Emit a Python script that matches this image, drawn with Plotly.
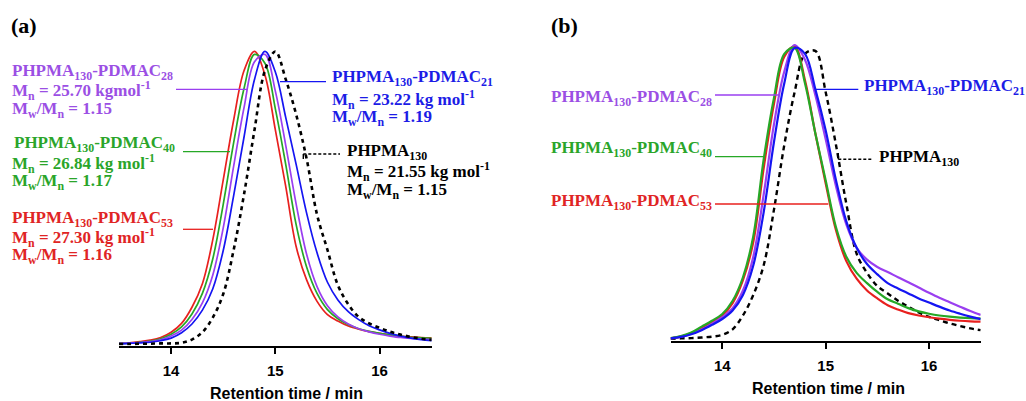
import plotly.graph_objects as go

# ---------------- data ----------------
RT = [13.5, 13.6, 13.7, 13.8, 13.9, 14.0, 14.1, 14.2, 14.3, 14.4, 14.5,
      14.6, 14.7, 14.8, 14.9, 15.0, 15.1, 15.2, 15.3, 15.4, 15.5, 15.6,
      15.7, 15.8, 15.9, 16.0, 16.1, 16.2, 16.3, 16.4, 16.5]

# panel (a) normalised RI signal
a_red = [0.002, 0.004, 0.008, 0.013, 0.022, 0.040, 0.070, 0.125, 0.205, 0.355, 0.558,
         0.762, 0.930, 0.995, 0.915, 0.728, 0.535, 0.331, 0.218, 0.145, 0.100, 0.078,
         0.061, 0.050, 0.042, 0.036, 0.031, 0.027, 0.024, 0.022, 0.021]
a_green = [0.002, 0.003, 0.006, 0.010, 0.018, 0.033, 0.058, 0.102, 0.172, 0.290, 0.475,
           0.685, 0.870, 0.985, 0.955, 0.800, 0.610, 0.405, 0.262, 0.172, 0.117, 0.086,
           0.066, 0.052, 0.043, 0.036, 0.031, 0.027, 0.023, 0.021, 0.019]
a_purple = [0.001, 0.003, 0.005, 0.008, 0.014, 0.027, 0.047, 0.083, 0.140, 0.235, 0.395,
            0.605, 0.805, 0.960, 0.985, 0.860, 0.675, 0.475, 0.305, 0.195, 0.130, 0.092,
            0.068, 0.052, 0.041, 0.033, 0.027, 0.022, 0.019, 0.017, 0.015]
a_blue = [0.001, 0.002, 0.004, 0.006, 0.011, 0.020, 0.038, 0.068, 0.115, 0.188, 0.318,
          0.505, 0.705, 0.900, 0.995, 0.925, 0.770, 0.610, 0.445, 0.310, 0.210, 0.150,
          0.110, 0.083, 0.062, 0.048, 0.036, 0.027, 0.020, 0.015, 0.011]
a_black = [0.000, 0.000, 0.001, 0.001, 0.002, 0.002, 0.004, 0.015, 0.040, 0.090, 0.170,
           0.320, 0.510, 0.728, 0.930, 0.995, 0.900, 0.780, 0.630, 0.440, 0.320, 0.200,
           0.135, 0.092, 0.070, 0.055, 0.042, 0.032, 0.024, 0.018, 0.014]

# panel (b) normalised UV signal
b_red = [0.002, 0.008, 0.020, 0.038, 0.058, 0.080, 0.122, 0.200, 0.330, 0.580, 0.800,
         0.960, 0.995, 0.880, 0.700, 0.530, 0.370, 0.265, 0.205, 0.165, 0.138, 0.115,
         0.100, 0.088, 0.080, 0.074, 0.069, 0.065, 0.062, 0.060, 0.059]
b_green = [0.003, 0.010, 0.022, 0.042, 0.062, 0.085, 0.130, 0.210, 0.350, 0.610, 0.820,
           0.970, 0.990, 0.870, 0.700, 0.540, 0.380, 0.280, 0.225, 0.190, 0.160, 0.135,
           0.120, 0.105, 0.094, 0.086, 0.080, 0.076, 0.073, 0.071, 0.070]
b_purple = [0.002, 0.008, 0.018, 0.032, 0.052, 0.074, 0.105, 0.165, 0.280, 0.490, 0.730,
            0.910, 1.000, 0.950, 0.830, 0.680, 0.520, 0.390, 0.310, 0.270, 0.245, 0.228,
            0.210, 0.193, 0.175, 0.157, 0.140, 0.125, 0.110, 0.095, 0.082]
b_blue = [0.002, 0.007, 0.016, 0.030, 0.048, 0.068, 0.097, 0.150, 0.250, 0.430, 0.670,
          0.870, 0.990, 0.970, 0.850, 0.710, 0.540, 0.400, 0.310, 0.255, 0.220, 0.190,
          0.172, 0.155, 0.138, 0.124, 0.110, 0.097, 0.086, 0.076, 0.067]
b_black = [0.001, 0.002, 0.003, 0.005, 0.008, 0.014, 0.033, 0.080, 0.150, 0.250, 0.440,
           0.660, 0.840, 0.970, 0.980, 0.840, 0.660, 0.460, 0.290, 0.225, 0.180, 0.155,
           0.130, 0.110, 0.090, 0.075, 0.064, 0.053, 0.044, 0.036, 0.030]

TICKS = [14, 15, 16]
XTITLE = "Retention time / min"

# ---------------- style ----------------
W, H = 1026, 401
RED, GREEN, PURPLE, BLUE, BLACK = "#e8201e", "#26a826", "#9a3ff0", "#1515f2", "#000000"
TXT_RED, TXT_GREEN, TXT_PURPLE, TXT_BLUE = "#e02424", "#2aa52a", "#9b4fe4", "#1c1ce6"
SERIF = "Liberation Serif"
SANS = "Liberation Sans"


def px(x):
    return x / W


def py(y):
    return 1 - y / H


fig = go.Figure()

panel_a = [(a_red, RED), (a_green, GREEN), (a_purple, PURPLE), (a_blue, BLUE)]
for ys, col in panel_a:
    fig.add_trace(go.Scatter(x=RT, y=ys, xaxis="x", yaxis="y", mode="lines",
                             line=dict(color=col, width=1.7, shape="spline", smoothing=1.0),
                             showlegend=False, hoverinfo="skip"))
fig.add_trace(go.Scatter(x=RT, y=a_black, xaxis="x", yaxis="y", mode="lines",
                         line=dict(color=BLACK, width=2.6, dash="4px,4px", shape="spline", smoothing=1.0),
                         showlegend=False, hoverinfo="skip"))

fig.add_trace(go.Scatter(x=RT, y=b_black, xaxis="x2", yaxis="y2", mode="lines",
                         line=dict(color=BLACK, width=2.4, dash="5px,4px", shape="spline", smoothing=1.0),
                         showlegend=False, hoverinfo="skip"))
panel_b = [(b_red, RED), (b_purple, PURPLE), (b_green, GREEN), (b_blue, BLUE)]
for ys, col in panel_b:
    fig.add_trace(go.Scatter(x=RT, y=ys, xaxis="x2", yaxis="y2", mode="lines",
                             line=dict(color=col, width=2.2, shape="spline", smoothing=1.0),
                             showlegend=False, hoverinfo="skip"))

xax = dict(range=[13.5, 16.5], showline=True, linecolor="black", linewidth=2,
           ticks="outside", ticklen=6, tickwidth=2, tickcolor="black",
           tickvals=TICKS, ticktext=[str(t) for t in TICKS],
           tickfont=dict(family=SANS, size=15, color="black", weight="bold"),
           ticklabelstandoff=4, showgrid=False, zeroline=False, fixedrange=True)
yax = dict(range=[-0.0058, 1.034], visible=False, showgrid=False, zeroline=False, fixedrange=True)

fig.update_layout(
    width=W, height=H, autosize=False,
    margin=dict(l=0, r=0, t=0, b=0),
    paper_bgcolor="white", plot_bgcolor="white",
    xaxis=dict(domain=[px(119), px(431.7)], anchor="y", **xax),
    yaxis=dict(domain=[1 - 345.7 / H, 1 - 40 / H], anchor="x", **yax),
    xaxis2=dict(domain=[px(670.6), px(980.7)], anchor="y2", **xax),
    yaxis2=dict(domain=[1 - 340.7 / H, 1 - 35 / H], anchor="x2", **yax),
)

ann = []


def label(text, x, y, color, size=17, family=SERIF, xanchor="left"):
    ann.append(dict(text="<b>" + text + "</b>", x=px(x), y=py(y), xref="paper", yref="paper",
                    xanchor=xanchor, yanchor="middle", showarrow=False,
                    font=dict(family=family, size=size, color=color)))


def seg(x0, y0, x1, y1, color, width=1.3, dash="solid"):
    fig.add_shape(type="line", xref="paper", yref="paper",
                  x0=px(x0), y0=py(y0), x1=px(x1), y1=py(y1),
                  line=dict(color=color, width=width, dash=dash))


MN = "M<sub>n</sub> = "
PDI = "M<sub>w</sub>/M<sub>n</sub> = "

# panel letters
label("(a)", 9, 26, "black", size=22)
label("(b)", 549, 26, "black", size=22)

# panel (a) labels
label("PHPMA<sub>130</sub>-PDMAC<sub>28</sub>", 10, 72, TXT_PURPLE)
label(MN + "25.70 kgmol<sup>-1</sup>", 10, 91, TXT_PURPLE)
label(PDI + "1.15", 10, 110, TXT_PURPLE)
seg(176, 89.3, 247, 89.3, PURPLE)

label("PHPMA<sub>130</sub>-PDMAC<sub>40</sub>", 12, 144, TXT_GREEN)
label(MN + "26.84 kg mol<sup>-1</sup>", 10, 163, TXT_GREEN)
label(PDI + "1.17", 10, 182, TXT_GREEN)
seg(183, 151.7, 230, 151.7, GREEN)

label("PHPMA<sub>130</sub>-PDMAC<sub>53</sub>", 10, 219, TXT_RED)
label(MN + "27.30 kg mol<sup>-1</sup>", 10, 237, TXT_RED)
label(PDI + "1.16", 10, 256, TXT_RED)
seg(183, 229.3, 213, 229.3, RED)

label("PHPMA<sub>130</sub>-PDMAC<sub>21</sub>", 330, 78, TXT_BLUE)
label(MN + "23.22 kg mol<sup>-1</sup>", 330, 99, TXT_BLUE)
label(PDI + "1.19", 330, 118, TXT_BLUE)
seg(280, 81.7, 326, 81.7, BLUE)

label("PHPMA<sub>130</sub>", 345, 152, "black")
label(MN + "21.55 kg mol<sup>-1</sup>", 345, 172, "black")
label(PDI + "1.15", 345, 191, "black")
seg(303.3, 154, 340, 154, "black", width=1.4, dash="3px,2px")
seg(303.3, 154, 303.3, 159, "black", width=1.4)

# panel (b) labels
label("PHPMA<sub>130</sub>-PDMAC<sub>28</sub>", 549, 98, TXT_PURPLE)
seg(715, 95, 780, 95, PURPLE)
label("PHPMA<sub>130</sub>-PDMAC<sub>40</sub>", 549, 149, TXT_GREEN)
seg(715, 156.7, 763.3, 156.7, GREEN)
label("PHPMA<sub>130</sub>-PDMAC<sub>53</sub>", 549, 202, TXT_RED)
seg(715, 204, 828.3, 204, RED)
label("PHPMA<sub>130</sub>-PDMAC<sub>21</sub>", 861.5, 87, TXT_BLUE)
seg(815, 89.3, 858.3, 89.3, BLUE)
label("PHPMA<sub>130</sub>", 876.5, 158, "black")
seg(838.3, 159.3, 873.3, 159.3, "black", width=1.4, dash="3px,2px")
seg(838.3, 153, 838.3, 159.3, "black", width=1.4)

# axis titles
label(XTITLE, 286.3, 393, "black", size=16, family=SANS, xanchor="center")
label(XTITLE, 828.3, 388.5, "black", size=16, family=SANS, xanchor="center")

fig.update_layout(annotations=ann)
fig.write_html("out.html", config={"displayModeBar": False, "staticPlot": True},
               post_script="document.body.style.margin='0';document.body.style.overflow='hidden';")
